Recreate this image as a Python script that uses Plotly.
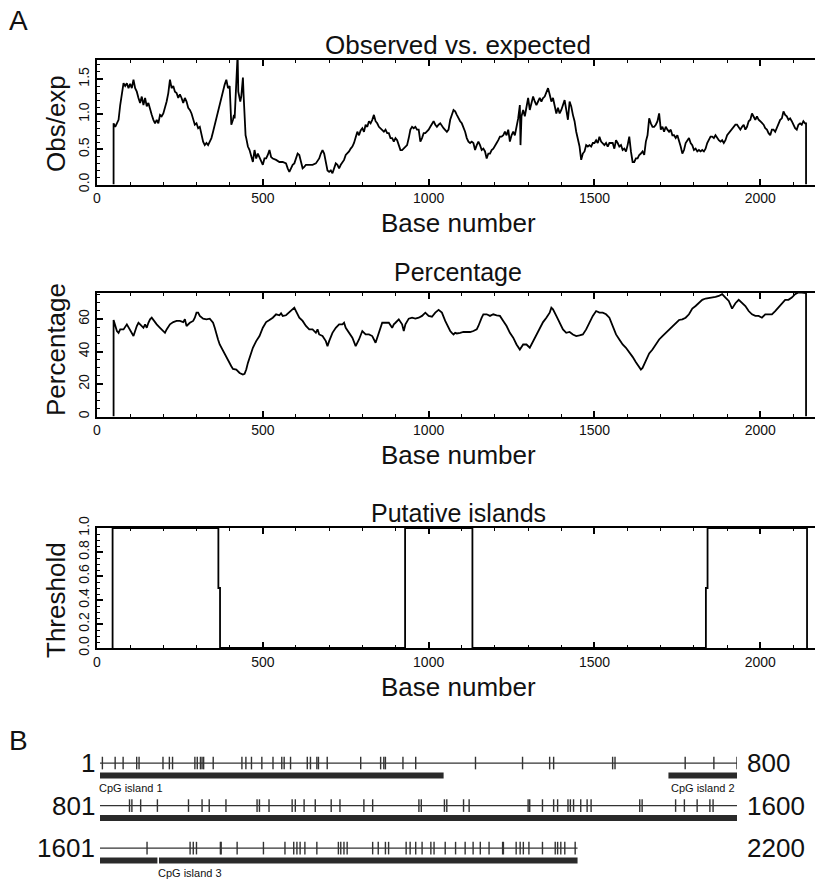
import plotly.graph_objects as go

# ---------------- data ----------------
oe_x = [50, 50, 55, 60, 65, 70, 75, 80, 85, 90, 95, 100, 105, 110, 115, 120, 125, 130, 135, 140, 145, 150, 155, 160, 165, 170, 175, 180, 185, 190, 195, 200, 205, 210, 215, 220, 225, 230, 235, 240, 245, 250, 255, 260, 265, 270, 275, 280, 285, 290, 295, 300, 305, 310, 315, 320, 325, 330, 335, 340, 345, 350, 355, 360, 365, 370, 375, 380, 385, 390, 395, 400, 402, 405, 410, 413, 415, 418, 420, 424, 426, 432, 435, 438, 440, 442, 445, 448, 450, 455, 460, 465, 470, 475, 480, 485, 490, 495, 500, 505, 510, 515, 520, 525, 530, 540, 550, 560, 570, 575, 580, 585, 590, 595, 600, 605, 610, 615, 620, 625, 630, 640, 650, 660, 670, 675, 680, 685, 690, 695, 700, 705, 710, 715, 720, 725, 730, 735, 740, 745, 750, 755, 760, 765, 770, 775, 780, 785, 790, 795, 800, 805, 810, 815, 820, 825, 830, 835, 840, 845, 850, 855, 860, 865, 870, 875, 880, 885, 890, 895, 900, 905, 910, 915, 920, 925, 930, 935, 940, 945, 950, 955, 960, 965, 970, 975, 980, 985, 990, 995, 1000, 1005, 1010, 1015, 1020, 1025, 1030, 1035, 1045, 1055, 1060, 1065, 1075, 1080, 1085, 1090, 1095, 1100, 1105, 1110, 1115, 1120, 1125, 1130, 1135, 1140, 1145, 1150, 1155, 1160, 1165, 1170, 1175, 1180, 1185, 1190, 1195, 1200, 1205, 1210, 1215, 1220, 1225, 1230, 1235, 1240, 1245, 1250, 1255, 1260, 1265, 1270, 1275, 1277, 1280, 1285, 1290, 1295, 1300, 1305, 1310, 1315, 1320, 1325, 1330, 1335, 1340, 1345, 1350, 1355, 1360, 1365, 1370, 1375, 1380, 1385, 1390, 1395, 1400, 1405, 1410, 1415, 1420, 1425, 1430, 1435, 1440, 1445, 1450, 1455, 1460, 1465, 1470, 1475, 1480, 1485, 1490, 1495, 1500, 1505, 1510, 1515, 1520, 1525, 1530, 1535, 1540, 1545, 1550, 1555, 1560, 1565, 1570, 1575, 1580, 1585, 1590, 1595, 1600, 1605, 1610, 1615, 1620, 1625, 1630, 1635, 1640, 1645, 1650, 1655, 1660, 1665, 1670, 1675, 1680, 1685, 1690, 1695, 1700, 1705, 1710, 1715, 1720, 1725, 1730, 1735, 1740, 1745, 1750, 1755, 1760, 1765, 1770, 1775, 1780, 1785, 1790, 1795, 1800, 1805, 1810, 1815, 1820, 1825, 1830, 1835, 1840, 1845, 1850, 1855, 1860, 1865, 1870, 1875, 1880, 1885, 1890, 1895, 1900, 1905, 1910, 1915, 1920, 1925, 1930, 1935, 1940, 1945, 1950, 1955, 1960, 1965, 1970, 1975, 1980, 1985, 1990, 1995, 2000, 2005, 2010, 2015, 2020, 2025, 2030, 2035, 2040, 2045, 2050, 2055, 2060, 2065, 2070, 2075, 2080, 2085, 2090, 2095, 2100, 2105, 2110, 2115, 2120, 2125, 2130, 2135, 2138, 2138]
oe_y = [0, 0.87, 0.82, 0.87, 0.92, 1.13, 1.32, 1.44, 1.40, 1.44, 1.37, 1.43, 1.37, 1.49, 1.37, 1.32, 1.23, 1.16, 1.25, 1.13, 1.23, 1.11, 1.16, 1.06, 0.99, 0.92, 0.87, 0.92, 0.87, 0.99, 0.97, 1.01, 1.09, 1.18, 1.30, 1.49, 1.37, 1.40, 1.32, 1.30, 1.23, 1.28, 1.23, 1.16, 1.23, 1.18, 1.09, 1.06, 1.01, 0.94, 0.85, 0.87, 0.80, 0.82, 0.70, 0.61, 0.56, 0.59, 0.56, 0.61, 0.66, 0.75, 0.85, 0.94, 1.04, 1.13, 1.25, 1.32, 1.42, 1.49, 1.37, 1.40, 1.23, 0.85, 0.92, 0.99, 0.94, 1.28, 1.42, 1.85, 1.32, 1.18, 1.25, 1.40, 1.52, 1.28, 0.90, 0.70, 0.66, 0.54, 0.49, 0.42, 0.32, 0.49, 0.37, 0.44, 0.39, 0.32, 0.28, 0.37, 0.37, 0.42, 0.49, 0.39, 0.37, 0.35, 0.32, 0.32, 0.30, 0.23, 0.18, 0.23, 0.28, 0.30, 0.37, 0.44, 0.42, 0.30, 0.23, 0.25, 0.28, 0.28, 0.28, 0.30, 0.37, 0.44, 0.49, 0.44, 0.32, 0.20, 0.18, 0.20, 0.16, 0.25, 0.30, 0.28, 0.23, 0.28, 0.32, 0.35, 0.42, 0.44, 0.47, 0.51, 0.54, 0.59, 0.66, 0.75, 0.70, 0.77, 0.80, 0.75, 0.85, 0.82, 0.90, 0.87, 0.92, 0.99, 0.90, 0.87, 0.82, 0.80, 0.78, 0.75, 0.78, 0.73, 0.73, 0.66, 0.66, 0.61, 0.66, 0.63, 0.56, 0.49, 0.49, 0.51, 0.54, 0.56, 0.66, 0.78, 0.82, 0.80, 0.82, 0.78, 0.78, 0.61, 0.66, 0.73, 0.73, 0.75, 0.78, 0.82, 0.87, 0.90, 0.85, 0.82, 0.85, 0.87, 0.80, 0.75, 0.78, 0.92, 1.06, 1.04, 0.99, 0.94, 0.90, 0.87, 0.82, 0.75, 0.66, 0.61, 0.59, 0.61, 0.59, 0.49, 0.56, 0.61, 0.56, 0.49, 0.51, 0.47, 0.37, 0.44, 0.44, 0.49, 0.51, 0.56, 0.59, 0.63, 0.68, 0.68, 0.70, 0.75, 0.70, 0.78, 0.61, 0.70, 0.75, 0.70, 0.82, 0.94, 1.13, 0.56, 0.97, 1.06, 0.97, 1.13, 1.23, 1.06, 1.18, 1.25, 1.18, 1.13, 1.18, 1.23, 1.18, 1.23, 1.25, 1.30, 1.37, 1.28, 1.18, 1.23, 1.09, 1.01, 1.09, 1.01, 1.06, 1.13, 1.20, 1.06, 0.92, 1.18, 1.11, 0.99, 0.90, 0.75, 0.63, 0.54, 0.35, 0.44, 0.47, 0.56, 0.54, 0.56, 0.54, 0.59, 0.59, 0.63, 0.59, 0.68, 0.61, 0.59, 0.56, 0.59, 0.54, 0.59, 0.59, 0.59, 0.51, 0.63, 0.59, 0.54, 0.56, 0.49, 0.51, 0.47, 0.56, 0.68, 0.47, 0.32, 0.32, 0.37, 0.37, 0.42, 0.44, 0.47, 0.42, 0.61, 0.70, 0.94, 0.87, 0.82, 0.82, 0.85, 0.90, 1.01, 0.78, 0.82, 0.75, 0.82, 0.78, 0.75, 0.78, 0.70, 0.70, 0.66, 0.70, 0.63, 0.54, 0.44, 0.49, 0.59, 0.63, 0.66, 0.59, 0.56, 0.49, 0.51, 0.47, 0.49, 0.47, 0.49, 0.47, 0.51, 0.59, 0.63, 0.68, 0.68, 0.66, 0.70, 0.66, 0.63, 0.61, 0.63, 0.59, 0.63, 0.70, 0.73, 0.75, 0.78, 0.82, 0.85, 0.85, 0.82, 0.78, 0.82, 0.85, 0.78, 0.82, 0.90, 0.92, 1.01, 0.97, 0.92, 0.97, 0.92, 0.90, 0.87, 0.85, 0.80, 0.78, 0.73, 0.70, 0.78, 0.78, 0.75, 0.80, 0.85, 0.92, 0.94, 1.04, 0.99, 0.97, 0.92, 0.94, 0.90, 0.85, 0.80, 0.78, 0.85, 0.87, 0.85, 0.90, 0.87, 0.87, 0]

pct_x = [50, 50, 60, 65, 70, 80, 90, 100, 110, 120, 125, 130, 140, 145, 150, 155, 160, 165, 170, 180, 190, 200, 205, 210, 220, 230, 240, 250, 260, 265, 270, 280, 290, 295, 300, 305, 310, 320, 330, 340, 350, 355, 360, 365, 370, 380, 390, 400, 405, 410, 420, 430, 440, 445, 450, 455, 460, 470, 480, 490, 500, 510, 520, 530, 540, 550, 555, 560, 570, 580, 590, 595, 600, 610, 620, 630, 640, 650, 660, 665, 670, 680, 690, 695, 700, 710, 720, 730, 740, 745, 750, 760, 770, 780, 790, 800, 810, 820, 830, 840, 845, 850, 860, 870, 880, 890, 895, 900, 910, 920, 925, 930, 940, 950, 960, 970, 980, 990, 1000, 1010, 1020, 1030, 1035, 1040, 1050, 1055, 1060, 1065, 1070, 1075, 1080, 1085, 1095, 1105, 1115, 1125, 1135, 1145, 1150, 1155, 1160, 1165, 1175, 1185, 1195, 1205, 1215, 1225, 1235, 1245, 1255, 1265, 1270, 1275, 1285, 1295, 1305, 1315, 1325, 1335, 1345, 1355, 1365, 1370, 1375, 1385, 1395, 1405, 1415, 1425, 1435, 1445, 1455, 1465, 1475, 1485, 1495, 1505, 1515, 1525, 1535, 1545, 1555, 1565, 1575, 1585, 1595, 1605, 1615, 1625, 1635, 1640, 1645, 1655, 1665, 1675, 1685, 1695, 1705, 1715, 1725, 1735, 1745, 1755, 1765, 1775, 1785, 1795, 1805, 1815, 1825, 1835, 1845, 1855, 1865, 1875, 1885, 1895, 1905, 1915, 1920, 1925, 1935, 1945, 1955, 1965, 1975, 1985, 1995, 2005, 2015, 2025, 2035, 2045, 2055, 2065, 2075, 2085, 2095, 2105, 2115, 2125, 2135, 2138, 2138]
pct_y = [0, 59.4, 52.6, 51.5, 53.6, 53.6, 56.7, 52.6, 49.5, 55.7, 57.7, 56.7, 54.6, 56.7, 54.6, 57.7, 59.8, 60.8, 59.4, 56.7, 54.6, 52.6, 51.5, 53.6, 56.7, 58.1, 58.8, 58.8, 58.1, 59.8, 55.7, 57.7, 58.8, 60.8, 63.9, 63.9, 61.9, 60.2, 59.8, 60.2, 57.7, 54.6, 50.5, 47.4, 44.3, 40.2, 36.1, 33.0, 30.9, 29.3, 28.9, 26.8, 25.8, 26.2, 28.9, 33.0, 36.1, 42.3, 46.4, 49.5, 54.6, 58.1, 59.4, 60.8, 62.9, 62.3, 63.5, 61.9, 62.3, 64.3, 66.4, 67.0, 64.9, 60.8, 58.8, 55.7, 53.6, 53.6, 51.5, 53.6, 50.5, 49.5, 46.4, 43.3, 46.4, 51.5, 54.6, 56.7, 56.7, 57.7, 54.6, 51.5, 48.5, 43.3, 47.4, 52.6, 50.5, 50.5, 49.5, 45.4, 48.5, 51.5, 57.7, 57.7, 57.7, 54.6, 56.7, 57.7, 59.8, 56.7, 52.6, 56.7, 60.2, 60.8, 60.2, 60.8, 61.9, 63.9, 61.9, 61.4, 63.9, 65.6, 64.9, 63.9, 58.8, 56.7, 54.6, 52.6, 51.5, 50.5, 51.5, 51.1, 51.5, 52.0, 52.0, 52.0, 52.6, 53.6, 55.7, 58.8, 60.8, 62.9, 62.9, 61.9, 62.9, 62.3, 61.9, 58.8, 55.7, 51.5, 48.5, 44.3, 42.3, 41.2, 44.3, 44.3, 42.3, 46.4, 50.5, 54.6, 58.1, 60.8, 63.9, 67.0, 66.0, 61.9, 57.7, 53.6, 51.5, 52.0, 50.5, 49.5, 49.9, 50.5, 53.6, 57.7, 61.9, 64.9, 63.9, 63.9, 62.9, 60.8, 55.7, 50.5, 47.4, 44.3, 42.3, 39.6, 36.7, 33.4, 30.5, 28.9, 29.9, 34.0, 38.8, 41.2, 44.3, 47.4, 49.5, 51.5, 53.6, 55.7, 57.7, 59.4, 59.8, 60.8, 62.9, 66.4, 68.0, 70.1, 71.8, 72.6, 72.8, 73.0, 73.6, 74.2, 75.3, 73.2, 71.1, 66.4, 68.0, 69.7, 71.8, 70.1, 68.0, 64.9, 62.9, 61.9, 61.9, 60.8, 62.9, 62.9, 62.9, 64.9, 67.0, 69.7, 71.8, 71.8, 73.2, 75.3, 76.3, 76.3, 75.9, 75.9, 0]

thr_x = [47, 47, 366, 366, 371, 371, 929, 929, 1132, 1132, 1836, 1836, 1841, 1841, 2141, 2141]
thr_y = [0, 1, 1, 0.5, 0.5, 0, 0, 1, 1, 0, 0, 0.5, 0.5, 1, 1, 0]

cpg_sites = [4, 20, 30, 47, 50, 80, 88, 92, 120, 123, 127, 129, 131, 143, 179, 184, 191, 204, 218, 229, 232, 240, 261, 265, 273, 275, 286, 328, 353, 357, 359, 381, 397, 472, 531, 565, 570, 644, 647, 735, 771, 800,
             838, 841, 852, 873, 912, 929, 938, 959, 998, 1001, 1013, 1042, 1046, 1057, 1071, 1091, 1102, 1132, 1143, 1201, 1204, 1233, 1236, 1257, 1264, 1338, 1340, 1356, 1370, 1375, 1388, 1391, 1395, 1404, 1412, 1417, 1478, 1481, 1523, 1534, 1550, 1566, 1570,
             1660, 1714, 1718, 1722, 1752, 1753, 1773, 1806, 1833, 1844, 1848, 1852, 1858, 1873, 1900, 1903, 1907, 1911, 1943, 1950, 1959, 1963, 1985, 1990, 1997, 2005, 2016, 2020, 2034, 2047, 2059, 2069, 2078, 2089, 2106, 2107, 2123, 2128, 2132, 2139, 2156, 2172, 2175, 2179, 2184, 2197]
island_starts = [1, 714, 1675]
island_ends = [432, 1673, 2200]
island_names = ["CpG island 1", "CpG island 2", "CpG island 3"]
row_starts = [1, 801, 1601]
row_ends = [800, 1600, 2200]
row_left_labels = ["1", "801", "1601"]
row_right_labels = ["800", "1600", "2200"]

# ---------------- layout helpers ----------------
W, H = 815, 883
FONT = "Arial, 'Liberation Sans', sans-serif"
INK = "#111111"


def fy(p):
    return 1 - p / H


def fx(p):
    return p / W


fig = go.Figure()

line_style = dict(color="black", width=1.8)
fig.add_trace(go.Scatter(x=oe_x, y=oe_y, mode="lines", line=line_style, xaxis="x", yaxis="y", showlegend=False))
fig.add_trace(go.Scatter(x=pct_x, y=pct_y, mode="lines", line=line_style, xaxis="x2", yaxis="y2", showlegend=False))
fig.add_trace(go.Scatter(x=thr_x, y=thr_y, mode="lines", line=line_style, xaxis="x3", yaxis="y3", showlegend=False))

# ---- panel B ----
ROW_BAR_OFF = 0.294
for r, (rs, re_) in enumerate(zip(row_starts, row_ends), start=1):
    fig.add_trace(go.Scatter(x=[1, re_ - rs + 1], y=[r, r], mode="lines",
                             line=dict(color="#333333", width=1.2),
                             xaxis="x4", yaxis="y4", showlegend=False))
    sx = [s - rs + 1 for s in cpg_sites if rs <= s <= re_]
    fig.add_trace(go.Scatter(x=sx, y=[r] * len(sx), mode="markers",
                             marker=dict(symbol="line-ns", size=9, line=dict(color="#333333", width=1.4)),
                             xaxis="x4", yaxis="y4", showlegend=False))
    for a, b in zip(island_starts, island_ends):
        lo, hi = max(a, rs), min(b, re_)
        if lo <= hi:
            fig.add_trace(go.Scatter(x=[lo - rs + 1, hi - rs + 1], y=[r + ROW_BAR_OFF] * 2, mode="lines",
                                     line=dict(color="#2a2a2a", width=6),
                                     xaxis="x4", yaxis="y4", showlegend=False))

annotations = []


def ann(text, x, y, size, xanchor="center", yanchor="middle", angle=0, xref="paper", yref="paper", **kw):
    annotations.append(dict(text=text, x=x, y=y, xref=xref, yref=yref, showarrow=False,
                            xanchor=xanchor, yanchor=yanchor, textangle=angle,
                            font=dict(family=FONT, size=size, color=INK), **kw))


for r, (l, rt) in enumerate(zip(row_left_labels, row_right_labels), start=1):
    ann(l, 1, r, 26, xanchor="right", xref="x4", yref="y4", xshift=-3)
    ann(rt, 800, r, 26, xanchor="left", xref="x4", yref="y4", xshift=8)

for name, a, b in zip(island_names, island_starts, island_ends):
    ri = max(i for i, rs in enumerate(row_starts) if rs <= a)
    rs = row_starts[ri]
    if name.endswith("2"):
        ann(name, (a - rs + 1 + min(b, row_ends[ri]) - rs + 1) / 2, ri + 1, 11, xanchor="center",
            yanchor="top", xref="x4", yref="y4", yshift=-17)
    else:
        ann(name, a - rs + 1, ri + 1, 11, xanchor="left", yanchor="top", xref="x4", yref="y4",
            yshift=-17, xshift=-3)

ann("A", fx(18), fy(21), 28)
ann("B", fx(18), fy(740), 28)
CX = fx(458)
ann("Observed vs. expected", CX, fy(45), 26)
ann("Percentage", CX, fy(272), 25)
ann("Putative islands", CX, fy(513), 25)
ann("Base number", CX, fy(223), 26)
ann("Base number", CX, fy(455), 26)
ann("Base number", CX, fy(687), 26)
ann("Obs/exp", fx(56), fy(124), 26, angle=-90)
ann("Percentage", fx(56), fy(350), 26, angle=-90)
ann("Threshold", fx(56), fy(600), 26, angle=-90)

XR = [0, 2165]
XDOM = [fx(97), 1.0]


def xax(anchor):
    return dict(domain=XDOM, range=XR, anchor=anchor, showline=True, linecolor="black", linewidth=2,
                mirror="allticks", ticks="inside", ticklen=6, tickwidth=1.5, tickcolor="black",
                tick0=0, dtick=500, showgrid=False, zeroline=False,
                minor=dict(dtick=100, ticks="inside", ticklen=3, tickwidth=1.3, tickcolor="black", showgrid=False),
                tickfont=dict(family=FONT, size=14, color=INK))


def yax(anchor, top, bot, rng, dtick, mdtick, fmt):
    return dict(domain=[fy(bot), fy(top)], range=rng, anchor=anchor, showline=True, linecolor="black",
                linewidth=2, mirror=True, ticks="inside", ticklen=6, tickwidth=1.5, tickcolor="black",
                tick0=0, dtick=dtick, tickformat=fmt, tickangle=-90, showgrid=False, zeroline=False,
                minor=dict(dtick=mdtick, ticks="inside", ticklen=3, tickwidth=1.3, tickcolor="black", showgrid=False),
                tickfont=dict(family=FONT, size=14, color=INK))


fig.update_layout(
    width=W, height=H, margin=dict(l=0, r=0, t=0, b=0, pad=0, autoexpand=False),
    paper_bgcolor="white", plot_bgcolor="white",
    xaxis=xax("y"), yaxis=yax("x", 60, 184.5, [0, 1.77], 0.5, 0.1, ".1f"),
    xaxis2=xax("y2"), yaxis2=yax("x2", 293, 416.5, [0, 76], 20, 5, "d"),
    xaxis3=xax("y3"), yaxis3=yax("x3", 528, 648, [0, 1.0], 0.2, 0.05, ".1f"),
    xaxis4=dict(domain=[fx(100), fx(737)], range=[1, 800], anchor="y4", visible=False),
    yaxis4=dict(domain=[0, fy(745)], range=[3.82, 0.576], anchor="x4", visible=False),
    annotations=annotations,
    font=dict(family=FONT, color=INK),
)

fig.write_html("out.html")
